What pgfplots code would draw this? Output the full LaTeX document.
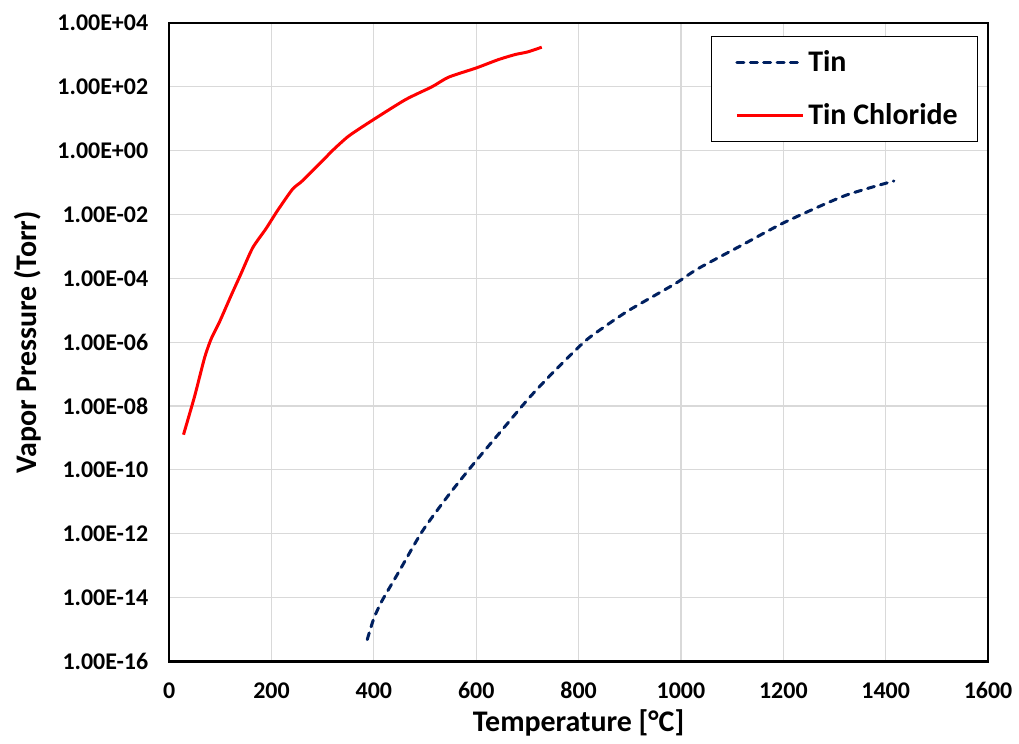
\documentclass[border=0pt]{standalone}
\usepackage{pgfplots}
\pgfplotsset{compat=1.18}
\usepackage{fontspec}
\setmainfont{Carlito}
\definecolor{tinblue}{HTML}{002060}
\definecolor{gridgray}{HTML}{D9D9D9}
\begin{document}
\begin{tikzpicture}
\path (-84.8pt,-38.5pt) rectangle (424.5pt,331.5pt);
\begin{axis}[
  at={(0pt,0pt)}, anchor=south west,
  scale only axis, width=410.5pt, height=320pt,
  xmin=0, xmax=1600, ymode=log, ymin=1e-16, ymax=1e4,
  xtick={0,200,...,1600},
  ytick={1e-16,1e-14,1e-12,1e-10,1e-8,1e-6,1e-4,1e-2,1,1e2,1e4},
  yticklabels={1.00E-16,1.00E-14,1.00E-12,1.00E-10,1.00E-08,1.00E-06,1.00E-04,1.00E-02,1.00E+00,1.00E+02,1.00E+04},
  minor ytick={}, yminorticks=false,
  major tick length=0pt,
  grid=major, major grid style={gridgray, line width=0.6pt},
  axis line style={black, line width=1.3pt},
  /pgf/number format/assume math mode=true,
  /pgf/number format/1000 sep={},
  tick label style={font=\bfseries\fontsize{12}{14}\selectfont},
  xticklabel style={yshift=-7pt},
  yticklabel style={xshift=-7pt},
  xlabel={Temperature [°C]},
  ylabel={Vapor Pressure (Torr)},
  label style={font=\bfseries\fontsize{15}{18}\selectfont},
  xlabel style={at={(axis description cs:0.5,-0.0969)}, anchor=center},
  ylabel style={at={(axis description cs:-0.1725,0.5)}, anchor=center},
  legend style={at={(0.988,0.980)}, anchor=north east, draw=black, line width=0.6pt,
    font=\bfseries\fontsize{15}{18}\selectfont, inner xsep=8pt, inner ysep=5pt,
    row sep=10.5pt, cells={anchor=west}},
  legend image code/.code={\path (-4pt,0pt); \draw[#1] (0pt,0pt) -- (33pt,0pt);},
]
\addplot[tinblue, line width=1.5pt, line cap=round, dash pattern=on 3.5pt off 3.2pt, smooth, tension=0.4] coordinates {
(387,4.79e-16) (400,2.24e-15) (416,7.94e-15) (449,6.46e-14) (494,1.15e-12)
(546,1.62e-11) (598,1.78e-10) (650,1.74e-9) (702,1.70e-8) (747,1.0e-7)
(809,9.55e-7) (838,2.19e-6) (896.6,9.55e-6) (987.5,6.61e-5) (1032,1.95e-4)
(1117,1.05e-3) (1202,5.62e-3) (1318.6,3.80e-2) (1416,0.112)
};
\addlegendentry{Tin}
\addplot[red, line width=1.5pt, smooth, tension=0.4] coordinates {
(28,1.26e-9) (50,2.09e-8) (69,3.16e-7) (82,1.26e-6) (98,4.17e-6) (121,2.88e-5)
(140,1.35e-4) (163,8.91e-4) (189,3.55e-3) (211.7,1.32e-2) (241,6.17e-2) (260,0.112)
(299,0.468) (319,1.0) (351,2.88) (400,9.55) (462,39.8) (513.5,100) (546,200)
(600,389) (643,708) (676,1023) (700,1230) (728,1738)
};
\addlegendentry{Tin Chloride}
\end{axis}
\end{tikzpicture}
\end{document}
